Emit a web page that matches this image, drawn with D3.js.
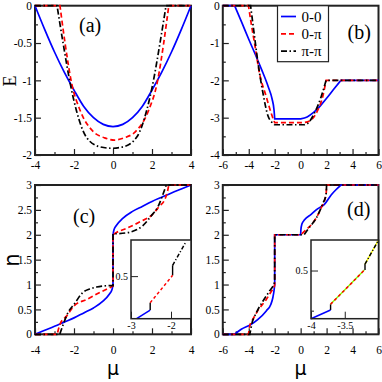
<!DOCTYPE html>
<html>
<head>
<meta charset="utf-8">
<script src="https://cdn.jsdelivr.net/npm/d3@7"></script>
<style>
  body { margin: 0; background: #fff; }
</style>
</head>
<body>
<svg id="chart" width="382" height="382"></svg>
<script>
// ---- tick labels ----
const xTicksNarrow = [-4, -2, 0, 2, 4];
const xMinorNarrow = [-3, -1, 1, 3];
const xTicksWide = [-6, -4, -2, 0, 2, 4, 6];
const xMinorWide = [-5, -3, -1, 1, 3, 5];
const yTicksA = [-2, -1.5, -1, -0.5, 0];
const yMinorA = [-1.75, -1.25, -0.75, -0.25];
const yTicksB = [-4, -3, -2, -1, 0];
const yMinorB = [-3.5, -2.5, -1.5, -0.5];
const yTicksN = [0, 0.5, 1, 1.5, 2, 2.5, 3];
const yMinorN = [0.25, 0.75, 1.25, 1.75, 2.25, 2.75];
const legendLabels = ["0-0", "0-\u03c0", "\u03c0-\u03c0"];

// ---- (a) E vs mu ----
const aBlueMu = [-4, -3.5, -3, -2.5, -2, -1.5, -1, -0.5, 0, 0.5, 1, 1.5, 2, 2.5, 3, 3.5, 4];
const aBlueE = [0, -0.32, -0.62, -0.89, -1.13, -1.35, -1.5, -1.59, -1.62, -1.59, -1.5, -1.35, -1.13, -0.89, -0.62, -0.32, 0];
const aRedMu = [-4, -2.72, -2.46, -2.12, -1.69, -1.0, -0.43, 0.07, 0.57, 1.14, 1.83, 2.26, 2.6, 2.86, 4];
const aRedE = [0, 0, -0.5, -1.04, -1.40, -1.69, -1.77, -1.80, -1.77, -1.69, -1.40, -1.04, -0.5, 0, 0];
const aBlackMu = [-4, -2.87, -2.56, -2.17, -1.88, -1.37, -0.68, -0.08, 0.53, 1.22, 1.73, 2.02, 2.41, 2.72, 4];
const aBlackE = [0, 0, -0.5, -1.075, -1.40, -1.76, -1.89, -1.91, -1.89, -1.76, -1.40, -1.075, -0.5, 0, 0];

// ---- (b) E vs mu ----
const bBlueMu = [-6, -5.09, -4.5, -4, -3.5, -3, -2.5, -2.2, -2.05, -2, 0, 0.5, 1, 1.5, 2, 2.5, 3.1, 6];
const bBlueE = [0, 0, -0.48, -0.9, -1.3, -1.72, -2.17, -2.5, -2.8, -3.03, -3.03, -2.98, -2.86, -2.69, -2.48, -2.26, -2.0, -2.0];
const bRedMu = [-6, -4.02, -3.8, -3.55, -3.17, -2.65, -2.27, -2.1, -2, 0.3, 0.81, 1.32, 1.7, 1.96, 6];
const bRedE = [0, 0, -0.5, -1.01, -1.81, -2.44, -2.88, -3.05, -3.13, -3.13, -3.06, -2.8, -2.44, -2.0, -2.0];
const bBlackMu = [-6, -3.86, -3.6, -3.3, -2.9, -2.52, -2.2, -2, 0.3, 0.55, 1.06, 1.58, 1.96, 6];
const bBlackE = [0, 0, -0.7, -1.5, -2.35, -2.95, -3.13, -3.19, -3.19, -3.15, -2.88, -2.44, -2.0, -2.0];

// ---- (c) n vs mu ----
const cBlueMu = [-4, -3.5, -3, -2.5, -2, -1.5, -1, -0.5, -0.2, -0.05, 0, 0, 0.05, 0.2, 0.5, 1, 1.5, 2, 2.5, 3, 3.5, 4];
const cBlueN = [0, 0.08, 0.16, 0.245, 0.33, 0.43, 0.53, 0.67, 0.8, 0.9, 1.0, 2.0, 2.1, 2.2, 2.33, 2.47, 2.57, 2.67, 2.755, 2.84, 2.92, 3.0];
const cRedMu = [-4, -2.86, -2.72, -2.37, -2, -1.35, -0.67, -0.2, 0, 0, 0.2, 0.7, 1.38, 2.0, 2.37, 2.67, 2.8, 2.86, 4];
const cRedN = [0, 0, 0.2, 0.37, 0.57, 0.70, 0.84, 0.93, 0.97, 2.0, 2.05, 2.13, 2.26, 2.4, 2.57, 2.72, 2.88, 3.0, 3.0];
const cBlackMu = [-4, -2.73, -2.55, -2.29, -2.0, -1.52, -1.2, -0.84, -0.17, 0, 0, 0.17, 0.84, 1.2, 1.52, 2.0, 2.29, 2.55, 2.73, 4];
const cBlackN = [0, 0, 0.2, 0.45, 0.6, 0.85, 0.91, 0.95, 0.98, 0.98, 2.02, 2.02, 2.05, 2.1, 2.18, 2.4, 2.55, 2.8, 3.0, 3.0];

// ---- (d) n vs mu ----
const dBlueMu = [-6, -5.09, -4.58, -3.81, -3.29, -2.65, -2.3, -2.14, -2.04, -2, -2, 0, 0.02, 0.09, 0.3, 0.81, 1.3, 1.83, 2.35, 2.7, 3.1, 6];
const dBlueN = [0, 0, 0.1, 0.2, 0.3, 0.47, 0.6, 0.74, 0.9, 1.0, 2.0, 2.0, 2.1, 2.21, 2.3, 2.41, 2.52, 2.61, 2.8, 2.9, 3.0, 3.0];
const dRedMu = [-6, -4.02, -3.94, -3.8, -3.71, -3.29, -2.65, -2.27, -2.02, -2, -2, 0, 0.42, 1.06, 1.58, 1.96, 2.0, 6];
const dRedN = [0, 0, 0.15, 0.25, 0.29, 0.48, 0.7, 0.86, 0.97, 1.0, 2.0, 2.0, 2.1, 2.28, 2.54, 2.81, 3.0, 3.0];
const dBlackMu = [-6, -3.92, -3.86, -3.7, -3.55, -3.29, -2.9, -2.4, -2.04, -2, -2, 0.26, 0.65, 1.19, 1.71, 1.96, 2.0, 6];
const dBlackN = [0, 0, 0.08, 0.27, 0.36, 0.5, 0.67, 0.87, 1.02, 1.05, 2.0, 2.0, 2.14, 2.33, 2.63, 2.81, 3.0, 3.0];

// ---- insets ----
const cInBlueMu = [-2.86, -2.52], cInBlueN = [0.17, 0.237];
const cInRedMu = [-2.52, -1.96], cInRedN = [0.294, 0.506];
const cInBlackMu = [-1.96, -1.62], cInBlackN = [0.584, 0.77];
const cInJumpMu = [-2.52, -1.96], cInJumpLo = [0.237, 0.506], cInJumpHi = [0.294, 0.584];

const dInBlueMu = [-4, -3.71], dInBlueN = [0.2, 0.254];
const dInRedMu = [-3.71, -3.45, -3.21], dInRedN = [0.29, 0.40, 0.5025];
const dInBlackMu = [-3.2, -3.0], dInBlackN = [0.54, 0.69];
const dInJumpMu = [-3.71, -3.2], dInJumpLo = [0.254, 0.5025], dInJumpHi = [0.29, 0.54];

// ---- styles ----
const SERIF = "Liberation Serif";
const styles = {
  blue: { stroke: "#0000ff", dash: null },
  red: { stroke: "#ff0000", dash: "5,3" },
  black: { stroke: "#000", dash: "6,2.5,1.5,2.5" }
};

const svg = d3.select("#chart");
const fmt = d => String(d);

// split into runs at jumps and at flat/sloped corners so the monotone curve stays sharp there
const seriesPath = (xs, ys, sx, sy) => {
  const pts = xs.map((x, i) => [sx(x), sy(ys[i])]);
  const runs = [[pts[0]]];
  for (let i = 1; i < pts.length; i++) {
    const prev = pts[i - 1], cur = pts[i];
    let run = runs[runs.length - 1];
    if (cur[0] <= prev[0]) { runs.push([cur]); continue; }
    if (run.length > 1) {
      const p0 = run[run.length - 2];
      const flatBefore = Math.abs(prev[1] - p0[1]) < 1e-6;
      const flatNow = Math.abs(cur[1] - prev[1]) < 1e-6;
      if (flatBefore !== flatNow) { run = [prev]; runs.push(run); }
    }
    run.push(cur);
  }
  const line = d3.line().curve(d3.curveMonotoneX);
  return runs.map((r, i) => {
    const s = r.length > 1 ? line(r) : "M" + r[0].join(",");
    return i ? s.replace(/^M/, "L") : s;
  }).join("");
};

const drawSeries = (g, xs, ys, sx, sy, st, width) => {
  g.append("path")
    .attr("d", seriesPath(xs, ys, sx, sy))
    .attr("fill", "none")
    .attr("stroke", st.stroke)
    .attr("stroke-width", width || 1.7)
    .attr("stroke-dasharray", st.dash);
};

const drawPanel = p => {
  const sx = d3.scaleLinear().domain(p.xDomain).range([p.left, p.right]);
  const sy = d3.scaleLinear().domain(p.yDomain).range([p.bottom, p.top]);
  const g = svg.append("g").attr("class", "panel-" + p.key);

  const xMaj = d3.axisBottom(sx).tickValues(p.xTicks).tickSize(-6).tickPadding(p.xPad).tickFormat(fmt);
  const xMin = d3.axisBottom(sx).tickValues(p.xMinor).tickSize(-3).tickFormat("");
  const yMaj = d3.axisLeft(sy).tickValues(p.yTicks).tickSize(-6).tickPadding(3).tickFormat(fmt);
  const yMin = d3.axisLeft(sy).tickValues(p.yMinor).tickSize(-3).tickFormat("");

  [[xMaj, "x"], [xMin, "x"], [yMaj, "y"], [yMin, "y"]].forEach(([ax, k]) => {
    const a = g.append("g")
      .attr("transform", k === "x" ? "translate(0," + p.bottom + ")" : "translate(" + p.left + ",0)")
      .call(ax);
    a.select(".domain").remove();
    a.selectAll("line").attr("stroke", "#222").attr("stroke-width", 1.2);
    a.selectAll("text").style("font-size", "11.5px").style("font-family", SERIF).attr("fill", "#000");
  });

  g.append("rect")
    .attr("x", p.left).attr("y", p.top)
    .attr("width", p.right - p.left).attr("height", p.bottom - p.top)
    .attr("fill", "none").attr("stroke", "#222").attr("stroke-width", 2);

  p.series.forEach(s => drawSeries(g, s.x, s.y, sx, sy, styles[s.style]));

  g.append("text")
    .attr("x", p.labelPos[0]).attr("y", p.labelPos[1])
    .style("font-size", "20px").style("font-family", SERIF)
    .text("(" + p.key + ")");
  return g;
};

drawPanel({
  key: "a", left: 35, right: 191, top: 5.7, bottom: 155,
  xDomain: [-4, 4], yDomain: [-2, 0],
  xTicks: xTicksNarrow, xMinor: xMinorNarrow, yTicks: yTicksA, yMinor: yMinorA, xPad: 6,
  labelPos: [79, 32],
  series: [
    { x: aBlueMu, y: aBlueE, style: "blue" },
    { x: aRedMu, y: aRedE, style: "red" },
    { x: aBlackMu, y: aBlackE, style: "black" }
  ]
});

drawPanel({
  key: "b", left: 222.8, right: 378.5, top: 5.7, bottom: 155,
  xDomain: [-6, 6], yDomain: [-4, 0],
  xTicks: xTicksWide, xMinor: xMinorWide, yTicks: yTicksB, yMinor: yMinorB, xPad: 6,
  labelPos: [347.5, 39],
  series: [
    { x: bBlueMu, y: bBlueE, style: "blue" },
    { x: bRedMu, y: bRedE, style: "red" },
    { x: bBlackMu, y: bBlackE, style: "black" }
  ]
});

drawPanel({
  key: "c", left: 35, right: 191, top: 185, bottom: 334.3,
  xDomain: [-4, 4], yDomain: [0, 3],
  xTicks: xTicksNarrow, xMinor: xMinorNarrow, yTicks: yTicksN, yMinor: yMinorN, xPad: 12,
  labelPos: [73, 223],
  series: [
    { x: cBlueMu, y: cBlueN, style: "blue" },
    { x: cRedMu, y: cRedN, style: "red" },
    { x: cBlackMu, y: cBlackN, style: "black" }
  ]
});

drawPanel({
  key: "d", left: 222.8, right: 378.5, top: 185, bottom: 334.3,
  xDomain: [-6, 6], yDomain: [0, 3],
  xTicks: xTicksWide, xMinor: xMinorWide, yTicks: yTicksN, yMinor: yMinorN, xPad: 12,
  labelPos: [347, 216],
  series: [
    { x: dBlueMu, y: dBlueN, style: "blue" },
    { x: dRedMu, y: dRedN, style: "red" },
    { x: dBlackMu, y: dBlackN, style: "black" }
  ]
});

// ---- insets ----
const drawInset = p => {
  const sx = d3.scaleLinear().domain(p.xDomain).range([p.left, p.right]);
  const sy = d3.scaleLinear().domain(p.yDomain).range([p.bottom, p.top]);
  const g = svg.append("g").attr("class", "inset");
  g.append("rect")
    .attr("x", p.left).attr("y", p.top)
    .attr("width", p.right - p.left).attr("height", p.bottom - p.top)
    .attr("fill", "#fff");

  const xAx = d3.axisBottom(sx).tickValues(p.xTicks).tickSize(-7).tickPadding(3).tickFormat(fmt);
  const yAx = d3.axisLeft(sy).tickValues(p.yTicks).tickSize(-7).tickPadding(3).tickFormat(fmt);
  const yMin = d3.axisLeft(sy).tickValues(p.yMinor).tickSize(-3).tickFormat("");
  [[xAx, "x"], [yAx, "y"], [yMin, "y"]].forEach(([ax, k]) => {
    const a = g.append("g")
      .attr("transform", k === "x" ? "translate(0," + p.bottom + ")" : "translate(" + p.left + ",0)")
      .call(ax);
    a.select(".domain").remove();
    a.selectAll("line").attr("stroke", "#222").attr("stroke-width", 1);
    a.selectAll("text").style("font-size", "10px").style("font-family", SERIF).attr("fill", "#000");
  });

  p.jumpMu.forEach((m, i) => {
    g.append("line")
      .attr("x1", sx(m)).attr("x2", sx(m))
      .attr("y1", sy(p.jumpLo[i])).attr("y2", sy(p.jumpHi[i]))
      .attr("stroke", "#000").attr("stroke-width", 1.4);
  });
  p.series.forEach(s => {
    if (s.under) drawSeries(g, s.x, s.y, sx, sy, { stroke: s.under, dash: null }, 1.4);
    drawSeries(g, s.x, s.y, sx, sy, s.style === "black"
      ? { stroke: "#000", dash: "4,2,1.2,2" }
      : s.style === "red" ? { stroke: "#ff0000", dash: "3,2.5" } : styles.blue, 1.5);
  });

  g.append("rect")
    .attr("x", p.left).attr("y", p.top)
    .attr("width", p.right - p.left).attr("height", p.bottom - p.top)
    .attr("fill", "none").attr("stroke", "#222").attr("stroke-width", 1.5);
};

drawInset({
  left: 131, right: 191, top: 240, bottom: 318.7,
  xDomain: [-3, -1.5], yDomain: [0.17, 0.78],
  xTicks: [-3, -2], yTicks: [0.5], yMinor: [],
  jumpMu: cInJumpMu, jumpLo: cInJumpLo, jumpHi: cInJumpHi,
  series: [
    { x: cInBlueMu, y: cInBlueN, style: "blue" },
    { x: cInRedMu, y: cInRedN, style: "red" },
    { x: cInBlackMu, y: cInBlackN, style: "black" }
  ]
});

drawInset({
  left: 311, right: 378.5, top: 240, bottom: 318.7,
  xDomain: [-4, -3], yDomain: [0.2, 0.69],
  xTicks: [-4, -3.5], yTicks: [0.5], yMinor: [0.25],
  jumpMu: dInJumpMu, jumpLo: dInJumpLo, jumpHi: dInJumpHi,
  series: [
    { x: dInBlueMu, y: dInBlueN, style: "blue" },
    { x: dInRedMu, y: dInRedN, style: "red", under: "#7fff00" },
    { x: dInBlackMu, y: dInBlackN, style: "black", under: "#ffff00" }
  ]
});

// ---- legend in (b) ----
const legend = svg.append("g").attr("class", "legend");
legend.append("rect")
  .attr("x", 277.5).attr("y", 5.7).attr("width", 51).attr("height", 56)
  .attr("fill", "#fff").attr("stroke", "#222").attr("stroke-width", 1.2);
["blue", "red", "black"].forEach((k, i) => {
  const yy = 16.5 + i * 17.3;
  legend.append("line")
    .attr("x1", 281).attr("x2", 296).attr("y1", yy).attr("y2", yy)
    .attr("stroke", styles[k].stroke).attr("stroke-width", 1.7)
    .attr("stroke-dasharray", styles[k].dash);
  legend.append("text")
    .attr("x", 301.5).attr("y", yy + 5)
    .style("font-size", "15px").style("font-family", SERIF)
    .text(legendLabels[i]);
});

// ---- axis titles ----
svg.append("text")
  .attr("transform", "translate(15.5,81) rotate(-90)")
  .attr("text-anchor", "middle")
  .style("font-size", "18px").style("font-family", SERIF)
  .text("E");
svg.append("text")
  .attr("transform", "translate(18.5,260) rotate(-90)")
  .attr("text-anchor", "middle")
  .style("font-size", "21px").style("font-family", "DejaVu Sans")
  .text("n");
[113, 300.5].forEach(cx => {
  svg.append("text")
    .attr("x", cx).attr("y", 375)
    .attr("text-anchor", "middle")
    .style("font-size", "19px").style("font-family", "DejaVu Sans")
    .text("\u03bc");
});
</script>
</body>
</html>
